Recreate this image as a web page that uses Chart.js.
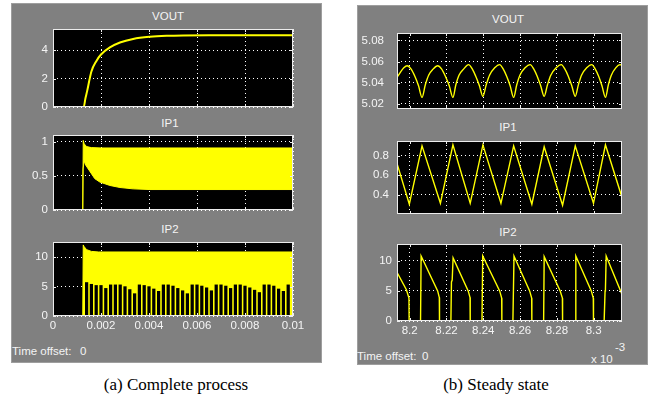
<!DOCTYPE html>
<html><head><meta charset="utf-8">
<script src="https://cdn.jsdelivr.net/npm/chart.js@4.4.1/dist/chart.umd.min.js"></script>
<style>
html,body{margin:0;padding:0;background:#fff;}
#root{position:relative;width:650px;height:402px;overflow:hidden;font-family:'Liberation Sans',Arial,sans-serif;}
.panel{position:absolute;background:#808080;border:1px solid #9e9e9e;box-sizing:border-box;}
canvas{position:absolute;}
.t{position:absolute;color:#f4f4f4;font-size:11.5px;white-space:nowrap;line-height:1;}
.ttl{transform:translate(-50%,-50%);}
.lt{transform:translate(0,-50%);}
.cap{position:absolute;font-family:'Liberation Serif','Times New Roman',serif;font-size:17px;color:#000;transform:translate(-50%,-50%);white-space:nowrap;line-height:1;}
</style></head>
<body>
<div id="root">
  <div class="panel" style="left:11px;top:3px;width:311px;height:360px;"></div>
  <div class="panel" style="left:357px;top:5px;width:291px;height:360px;"></div>
  <div class="t ttl" style="left:168px;top:17px;">VOUT</div>
  <div class="t ttl" style="left:170px;top:124px;">IP1</div>
  <div class="t ttl" style="left:170px;top:230px;">IP2</div>
  <div class="t lt" style="left:12px;top:352px;">Time offset:</div>
  <div class="t lt" style="left:80px;top:352px;">0</div>
  <div class="t ttl" style="left:508px;top:20px;">VOUT</div>
  <div class="t ttl" style="left:508px;top:128px;">IP1</div>
  <div class="t ttl" style="left:508px;top:233px;">IP2</div>
  <div class="t lt" style="left:357px;top:357px;">Time offset:</div>
  <div class="t lt" style="left:422px;top:357px;">0</div>
  <div class="t lt" style="left:591px;top:360px;">x 10</div>
  <div class="t lt" style="left:615px;top:348px;">-3</div>
  <div class="cap" style="left:176px;top:384px;">(a) Complete process</div>
  <div class="cap" style="left:496px;top:384px;">(b) Steady state</div>
</div>
<script>
// ================= (a) Complete process =================
const tickA_x = [0, 0.002, 0.004, 0.006, 0.008, 0.01];
const tickA_xLabels = ['0', '0.002', '0.004', '0.006', '0.008', '0.01'];

const voutA_t = [0, 0.00128, 0.00135, 0.00142, 0.0016, 0.00181, 0.002, 0.00237, 0.00279, 0.00334, 0.00404, 0.00474, 0.00543, 0.0065, 0.01];
const voutA_v = [0, 0, 0.6, 1.1, 2.5, 3.25, 3.7, 4.2, 4.55, 4.8, 4.95, 5.02, 5.05, 5.06, 5.06];
const tickA_vout = [0, 2, 4];
const tickA_voutLabels = ['0', '2', '4'];

const ip1A_upT = [0, 0.00124, 0.00126, 0.0013, 0.0014, 0.0016, 0.002, 0.01];
const ip1A_upV = [0, 0, 1.02, 0.97, 0.93, 0.915, 0.91, 0.91];
const ip1A_loT = [0, 0.00124, 0.00125, 0.0013, 0.00136, 0.00153, 0.00174, 0.00195, 0.00237, 0.00279, 0.00334, 0.00404, 0.006, 0.008, 0.01];
const ip1A_loV = [0, 0, 0.6, 0.72, 0.66, 0.57, 0.46, 0.41, 0.36, 0.33, 0.31, 0.30, 0.30, 0.30, 0.30];
const tickA_ip1 = [0, 0.5, 1];
const tickA_ip1Labels = ['0', '0.5', '1'];

const ip2A_upT = [0, 0.00124, 0.00126, 0.0013, 0.0014, 0.0016, 0.0019, 0.01];
const ip2A_upV = [0, 0, 12.1, 11.8, 11.3, 11.0, 10.9, 10.9];
const ip2A_gapT = [0.0014,0.0016,0.0018,0.0020,0.0022,0.0024,0.0026,0.0028,0.0030,0.0032,0.0034,0.0036,0.0038,0.0040,0.0042,0.0044,0.0046,0.0048,0.0050,0.0052,0.0054,0.0056,0.0058,0.0060,0.0062,0.0064,0.0066,0.0068,0.0070,0.0072,0.0074,0.0076,0.0078,0.0080,0.0082,0.0084,0.0086,0.0088,0.0090,0.0092,0.0094,0.0096,0.0098];
const ip2A_gapH = [5.7,5.4,5.2,5.2,4.7,5.3,5.3,5.3,5.0,4.5,3.8,5.3,5.2,5.0,4.6,4.2,5.3,5.3,5.1,4.7,4.3,3.8,5.3,5.3,5.1,4.8,4.3,5.3,5.3,5.1,4.7,5.3,5.3,5.1,4.8,4.4,4.0,5.3,5.3,5.1,4.6,4.2,5.3];
const tickA_ip2 = [0, 5, 10];
const tickA_ip2Labels = ['0', '5', '10'];

// ================= (b) Steady state (time in units of 1e-3 s) =================
const tickB_x = [8.2, 8.22, 8.24, 8.26, 8.28, 8.3];
const tickB_xLabels = ['8.2', '8.22', '8.24', '8.26', '8.28', '8.3'];

const voutB_t = [8.1931,8.1950,8.1968,8.1986,8.2007,8.2028,8.2048,8.2067,8.2085,8.2103,8.2128,8.2152,8.2173,8.2194,8.2215,8.2235,8.2251,8.2268,8.2294,8.2320,8.2340,8.2359,8.2379,8.2398,8.2416,8.2434,8.2462,8.2489,8.2508,8.2527,8.2546,8.2565,8.2582,8.2599,8.2627,8.2655,8.2674,8.2693,8.2712,8.2731,8.2749,8.2767,8.2796,8.2824,8.2843,8.2862,8.2881,8.2900,8.2917,8.2934,8.2962,8.2990,8.3008,8.3027,8.3045,8.3064,8.3080,8.3096,8.3120,8.3144,8.3154];
const voutB_v = [5.045,5.050,5.054,5.056,5.053,5.046,5.037,5.026,5.038,5.047,5.053,5.056,5.053,5.046,5.037,5.026,5.038,5.047,5.053,5.057,5.053,5.046,5.037,5.027,5.038,5.047,5.054,5.057,5.053,5.046,5.037,5.026,5.038,5.047,5.054,5.057,5.053,5.046,5.037,5.027,5.038,5.047,5.054,5.057,5.053,5.046,5.037,5.027,5.038,5.047,5.054,5.057,5.053,5.046,5.037,5.026,5.038,5.047,5.054,5.057,5.056];
const tickB_vout = [5.02, 5.04, 5.06, 5.08];
const tickB_voutLabels = ['5.02', '5.04', '5.06', '5.08'];

const ip1B_t = [8.1931,8.1998,8.2067,8.2167,8.2235,8.2329,8.2398,8.2496,8.2565,8.2664,8.2731,8.2831,8.2900,8.2999,8.3064,8.3154];
const ip1B_v = [0.72,0.30,0.90,0.31,0.91,0.31,0.91,0.31,0.90,0.30,0.89,0.29,0.90,0.31,0.91,0.37];
const tickB_ip1 = [0.4, 0.6, 0.8];
const tickB_ip1Labels = ['0.4', '0.6', '0.8'];

const ip2B_t = [8.1931,8.1982,8.1996,8.1997,8.2059,8.2062,8.2152,8.2161,8.2162,8.2224,8.2227,8.2231,8.2236,8.2318,8.2328,8.2329,8.2393,8.2397,8.2489,8.2500,8.2501,8.2561,8.2567,8.2652,8.2663,8.2664,8.2728,8.2731,8.2818,8.2830,8.2831,8.2900,8.2903,8.2987,8.2998,8.2999,8.3057,8.3062,8.3064,8.3068,8.3153];
const ip2B_v = [8.1,5.2,3.8,0,0,10.8,5.0,3.9,0,0,6.5,6.8,10.5,5.0,3.9,0,0,10.8,5.0,3.8,0,0,10.8,5.0,3.8,0,0,10.7,5.0,3.8,0,0,10.8,5.0,3.8,0,0,5.0,5.3,10.8,4.5];
const tickB_ip2 = [0, 5, 10];
const tickB_ip2Labels = ['0', '5', '10'];

// ================= rendering =================
const YEL = '#ffff00';
const TXT = '#f4f4f4';
Chart.defaults.font.family = "'Liberation Sans', Arial, sans-serif";
Chart.defaults.font.size = 11.5;
Chart.defaults.color = TXT;

const pts = (t, v) => t.map((x, i) => ({x: x, y: v[i]}));

const scopePlugin = {
  id: 'scope',
  beforeDraw(chart) {
    const {ctx, chartArea: a} = chart;
    ctx.save();
    ctx.fillStyle = '#000';
    ctx.fillRect(a.left, a.top, a.right - a.left, a.bottom - a.top);
    ctx.restore();
  },
  afterDatasetsDraw(chart) {
    const {ctx, chartArea: a, scales} = chart;
    ctx.save();
    ctx.strokeStyle = '#ececec';
    ctx.lineWidth = 1;
    ctx.strokeRect(a.left + 0.5, a.top + 0.5, a.right - a.left - 1, a.bottom - a.top - 1);
    ctx.beginPath();
    scales.x.ticks.forEach(t => {
      const px = Math.round(scales.x.getPixelForValue(t.value)) + 0.5;
      ctx.moveTo(px, a.top); ctx.lineTo(px, a.top + 3);
      ctx.moveTo(px, a.bottom); ctx.lineTo(px, a.bottom - 3);
    });
    scales.y.ticks.forEach(t => {
      const py = Math.round(scales.y.getPixelForValue(t.value)) + 0.5;
      ctx.moveTo(a.left, py); ctx.lineTo(a.left + 3, py);
      ctx.moveTo(a.right, py); ctx.lineTo(a.right - 3, py);
    });
    ctx.stroke();
    ctx.restore();
  }
};

const root = document.getElementById('root');

function makeScope(o) {
  const cv = document.createElement('canvas');
  const cx = o.panelLeft + 1, cy = o.T - 8;
  const xh = o.showX ? 20 : 0;
  const padB = o.showX ? 6 : 8;
  const w = o.R - cx + 22, h = (o.B - o.T) + 8 + xh + padB;
  cv.width = w; cv.height = h;
  cv.style.left = cx + 'px'; cv.style.top = cy + 'px';
  cv.style.width = w + 'px'; cv.style.height = h + 'px';
  root.appendChild(cv);
  const yw = o.L - cx;
  new Chart(cv, {
    type: 'line',
    data: {datasets: o.datasets},
    options: {
      responsive: false, animation: false, devicePixelRatio: 1,
      layout: {padding: {left: 0, top: 8, right: 22, bottom: padB}},
      plugins: {legend: {display: false}, tooltip: {enabled: false}, title: {display: false}},
      elements: {point: {radius: 0}},
      scales: {
        x: {
          type: 'linear', min: o.xMin, max: o.xMax, offset: false,
          afterBuildTicks: s => { s.ticks = o.xTicks.map(v => ({value: v})); },
          afterFit: s => { s.height = xh; s.paddingLeft = 0; s.paddingRight = 0; },
          ticks: {display: o.showX, padding: 3, color: TXT, maxRotation: 0, autoSkip: false,
                  callback: (v, i) => o.xLabels[i]},
          grid: {color: '#ffffff', lineWidth: 1, drawTicks: false, offset: false, borderDash: [1, 3]},
          border: {display: false, dash: [1, 3]}
        },
        y: {
          type: 'linear', min: o.yMin, max: o.yMax,
          afterBuildTicks: s => { s.ticks = o.yTicks.map(v => ({value: v})); },
          afterFit: s => { s.width = yw; s.paddingTop = 0; s.paddingBottom = 0; },
          ticks: {padding: o.yPad, color: TXT, autoSkip: false, callback: (v, i) => o.yLabels[i]},
          grid: {color: '#ffffff', lineWidth: 1, drawTicks: false, borderDash: [1, 3]},
          border: {display: false, dash: [1, 3]}
        }
      }
    },
    plugins: [scopePlugin]
  });
}

const lineDs = (t, v, extra) => Object.assign({
  data: pts(t, v), borderColor: YEL, borderWidth: 1.5, pointRadius: 0, tension: 0, fill: false, order: 1
}, extra || {});

// (a) VOUT
makeScope({panelLeft: 11, L: 53, T: 29, R: 293, B: 107, showX: false,
  xMin: 0, xMax: 0.01, xTicks: tickA_x, xLabels: tickA_xLabels,
  yMin: 0, yMax: 5.5, yTicks: tickA_vout, yLabels: tickA_voutLabels, yPad: 5,
  datasets: [lineDs(voutA_t, voutA_v, {borderWidth: 2, cubicInterpolationMode: 'monotone'})]});

// (a) IP1
makeScope({panelLeft: 11, L: 53, T: 135, R: 293, B: 210, showX: false,
  xMin: 0, xMax: 0.01, xTicks: tickA_x, xLabels: tickA_xLabels,
  yMin: 0, yMax: 1.1, yTicks: tickA_ip1, yLabels: tickA_ip1Labels, yPad: 5,
  datasets: [
    lineDs(ip1A_loT, ip1A_loV, {borderWidth: 1}),
    lineDs(ip1A_upT, ip1A_upV, {borderWidth: 1, fill: '-1', backgroundColor: YEL})
  ]});

// (a) IP2
makeScope({panelLeft: 11, L: 53, T: 242, R: 293, B: 316, showX: true,
  xMin: 0, xMax: 0.01, xTicks: tickA_x, xLabels: tickA_xLabels,
  yMin: 0, yMax: 12.6, yTicks: tickA_ip2, yLabels: tickA_ip2Labels, yPad: 5,
  datasets: [
    lineDs(ip2A_upT, ip2A_upV, {borderWidth: 1, fill: 'origin', backgroundColor: YEL, order: 2}),
    {type: 'bar', data: pts(ip2A_gapT, ip2A_gapH), backgroundColor: '#000000', borderWidth: 0,
     barThickness: 2.6, order: 0}
  ]});

// (b) VOUT
makeScope({panelLeft: 357, L: 397, T: 33, R: 622, B: 109, showX: false,
  xMin: 8.1931, xMax: 8.3154, xTicks: tickB_x, xLabels: tickB_xLabels,
  yMin: 5.015, yMax: 5.087, yTicks: tickB_vout, yLabels: tickB_voutLabels, yPad: 13,
  datasets: [lineDs(voutB_t, voutB_v, {borderWidth: 1.4, cubicInterpolationMode: 'monotone'})]});

// (b) IP1
makeScope({panelLeft: 357, L: 397, T: 141, R: 622, B: 214, showX: false,
  xMin: 8.1931, xMax: 8.3154, xTicks: tickB_x, xLabels: tickB_xLabels,
  yMin: 0.2, yMax: 0.95, yTicks: tickB_ip1, yLabels: tickB_ip1Labels, yPad: 8,
  datasets: [lineDs(ip1B_t, ip1B_v, {borderWidth: 1.4})]});

// (b) IP2
makeScope({panelLeft: 357, L: 397, T: 244, R: 622, B: 321, showX: true,
  xMin: 8.1931, xMax: 8.3154, xTicks: tickB_x, xLabels: tickB_xLabels,
  yMin: 0, yMax: 12.8, yTicks: tickB_ip2, yLabels: tickB_ip2Labels, yPad: 5,
  datasets: [lineDs(ip2B_t, ip2B_v, {borderWidth: 1.4})]});
</script>
</body></html>
